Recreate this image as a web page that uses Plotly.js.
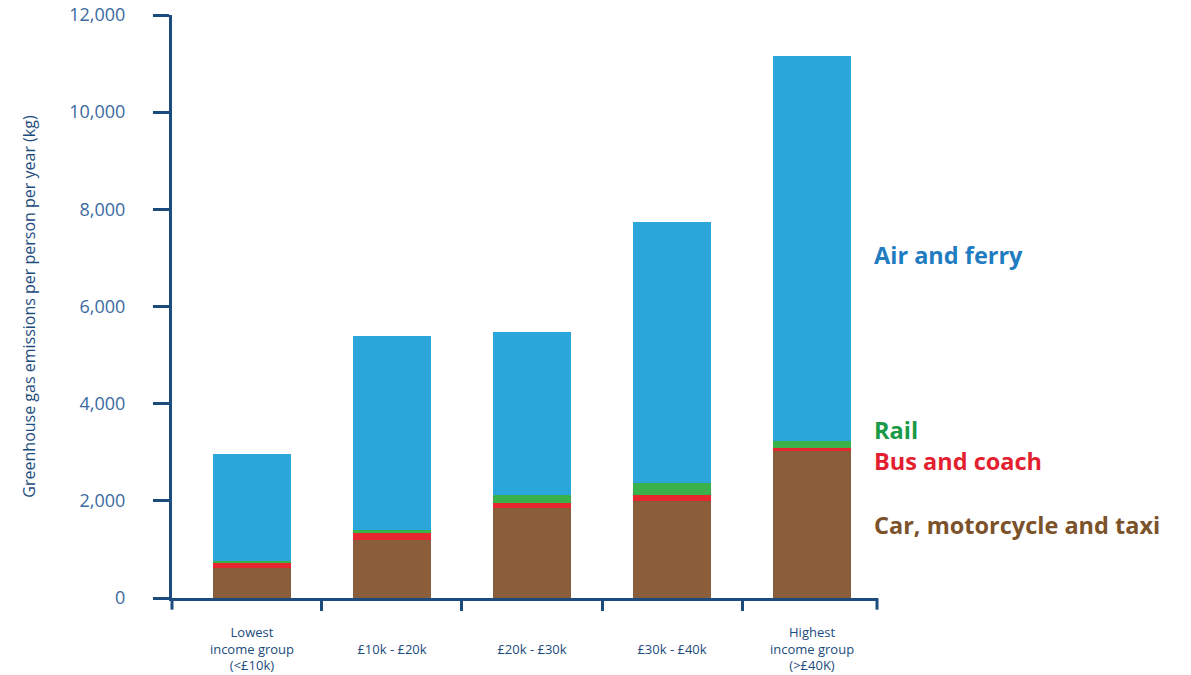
<!DOCTYPE html>
<html>
<head>
<meta charset="utf-8">
<script src="https://cdn.plot.ly/plotly-3.0.1.min.js"></script>
<style>html,body{margin:0;padding:0;background:#fff;}#chart{width:1191px;height:675px;}</style>
</head>
<body>
<div id="chart"></div>
<script>
// Categories (income groups)
const categories = ["Lowest<br>income group<br>(<£10k)", " <br>£10k - £20k", " <br>£20k - £30k", " <br>£30k - £40k", "Highest<br>income group<br>(>£40K)"];
// Series values (kg per person per year)
const car  = [620, 1200, 1860, 2000, 3020];
const bus  = [95, 140, 90, 115, 70];
const rail = [40, 50, 170, 250, 145];
const air  = [2205, 4010, 3360, 5365, 7915];
const seriesNames = ["Car, motorcycle and taxi", "Bus and coach", "Rail", "Air and ferry"];
const yTicks = [0, 2000, 4000, 6000, 8000, 10000, 12000];
const yTickText = ["0", "2,000", "4,000", "6,000", "8,000", "10,000", "12,000"];
const boundaryTicks = [0.5, 1.5, 2.5, 3.5];

const colors = ["#8a5d3b", "#e8262f", "#3bb14a", "#2ba6da"];
const labelColors = ["#7b5229", "#e31f30", "#1a9a48", "#1f7cc1"];
const labelY = [1500, 2820, 3460, 7060];
const seriesVals = [car, bus, rail, air];

const traces = seriesVals.map((vals, k) => ({
  type: "bar",
  x: categories,
  y: vals,
  name: seriesNames[k],
  marker: {color: colors[k], line: {width: 0}},
  width: 0.557,
  hoverinfo: "y+name"
}));
// invisible helper trace so the boundary-tick axis is drawn
traces.push({type: "scatter", x: boundaryTicks, y: boundaryTicks.map(() => 0), xaxis: "x2", yaxis: "y",
             mode: "markers", marker: {opacity: 0}, hoverinfo: "skip", showlegend: false});

const axisColor = "#1c4b7d";
const xRange = [-0.571, 4.464];
const layout = {
  width: 1191, height: 675,
  margin: {l: 172, r: 314, t: 15, b: 77},
  barmode: "stack",
  showlegend: false,
  paper_bgcolor: "#fff", plot_bgcolor: "#fff",
  font: {family: "Open Sans, sans-serif"},
  xaxis: {
    type: "category",
    range: xRange,
    ticks: "",
    ticklabelstandoff: 20,
    showline: true, linecolor: axisColor, linewidth: 3,
    showgrid: false, zeroline: false,
    tickfont: {family: "Open Sans, sans-serif", size: 13, color: axisColor},
    fixedrange: true
  },
  xaxis2: {
    overlaying: "x", anchor: "y", side: "bottom",
    range: xRange,
    tickmode: "array", tickvals: boundaryTicks, showticklabels: false,
    ticks: "outside", ticklen: 12, tickwidth: 3, tickcolor: axisColor,
    showline: false, showgrid: false, zeroline: false,
    fixedrange: true
  },
  yaxis: {
    range: [0, 12000],
    tickmode: "array",
    tickvals: yTicks,
    ticktext: yTickText,
    ticks: "outside", ticklen: 16, tickwidth: 3, tickcolor: axisColor,
    ticklabelstandoff: 24,
    showline: true, linecolor: axisColor, linewidth: 3,
    showgrid: false, zeroline: false,
    tickfont: {family: "Open Sans, sans-serif", size: 18, color: "#3a6aa0"},
    title: {text: "Greenhouse gas emissions per person per year (kg)", standoff: 30,
            font: {family: "Open Sans, sans-serif", size: 16, color: axisColor}},
    fixedrange: true
  },
  shapes: [
    {type: "line", xref: "paper", yref: "paper", x0: 0, x1: 0, y0: 0, y1: -0.02, line: {color: axisColor, width: 3}},
    {type: "line", xref: "paper", yref: "paper", x0: 1, x1: 1, y0: 0, y1: -0.02, line: {color: axisColor, width: 3}}
  ],
  annotations: seriesNames.map((n, k) => ({
    text: n, xref: "paper", yref: "y", x: 0.993, y: labelY[k],
    xanchor: "left", yanchor: "middle", showarrow: false,
    font: {family: "Open Sans, sans-serif", size: 23.5, color: labelColors[k], weight: 700}
  }))
};

Plotly.newPlot("chart", traces, layout, {displayModeBar: false, staticPlot: true});
</script>
</body>
</html>
